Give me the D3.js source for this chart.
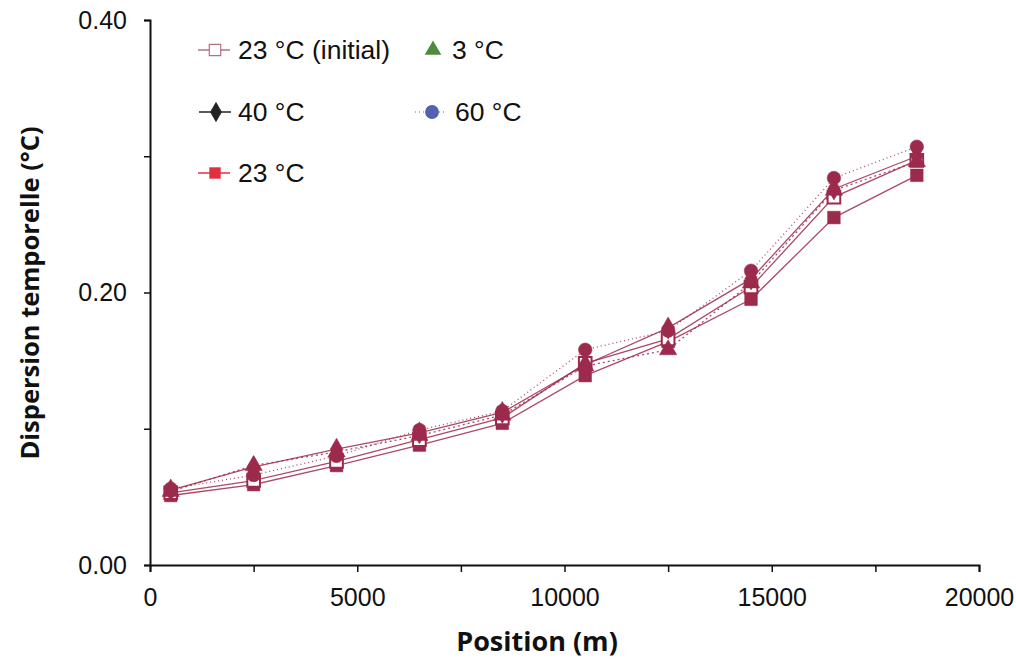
<!DOCTYPE html>
<html><head><meta charset="utf-8">
<script src="https://cdn.jsdelivr.net/npm/d3@7"></script>
<style>body{margin:0;background:#fff}svg{display:block}</style>
</head><body>
<svg id="c" width="1016" height="671"></svg>
<script>
const positions = [500, 2500, 4500, 6500, 8500, 10500, 12500, 14500, 16500, 18500];
const s23init = [0.053, 0.062, 0.076, 0.092, 0.108, 0.148, 0.166, 0.204, 0.270, 0.297];
const s3 = [0.054, 0.073, 0.083, 0.095, 0.110, 0.146, 0.158, 0.207, 0.275, 0.296];
const s40 = [0.055, 0.072, 0.085, 0.097, 0.112, 0.147, 0.174, 0.210, 0.276, 0.300];
const s60 = [0.056, 0.066, 0.080, 0.099, 0.113, 0.158, 0.172, 0.216, 0.284, 0.307];
const s23 = [0.051, 0.059, 0.073, 0.088, 0.104, 0.139, 0.164, 0.195, 0.255, 0.286];
const xTicks = [0, 5000, 10000, 15000, 20000];
const xMinorTicks = [0, 2500, 5000, 7500, 10000, 12500, 15000, 17500, 20000];
const yTicks = [0, 0.2, 0.4];
const yMinorTicks = [0, 0.1, 0.2, 0.3, 0.4];

const series = [
  {name: "23 °C", values: s23, sym: d3.symbolSquare, fill: "#9c2a4c", dash: null, legColor: "#e0303f", legFill: "#e0303f"},
  {name: "23 °C (initial)", values: s23init, sym: d3.symbolSquare, fill: "#fff", dash: null, legColor: "#b5707f", legFill: "#fff", open: true},
  {name: "3 °C", values: s3, sym: d3.symbolTriangle, fill: "#9c2a4c", dash: "2,3", legColor: "#4e8b3e", legFill: "#4e8b3e"},
  {name: "40 °C", values: s40, sym: d3.symbolDiamond, fill: "#9c2a4c", dash: null, legColor: "#222", legFill: "#222"},
  {name: "60 °C", values: s60, sym: d3.symbolCircle, fill: "#9c2a4c", dash: "1,3", legColor: "#5560b0", legFill: "#5560b0"}
];
const maroon = "#9c2a4c";

const svg = d3.select("#c");
const x = d3.scaleLinear().domain([0, 20000]).range([150, 979]);
const y = d3.scaleLinear().domain([0, 0.4]).range([565, 20]);

// lines
const line = d3.line().x((d, i) => x(positions[i])).y(d => y(d));
series.forEach(s => {
  svg.append("path").datum(s.values).attr("d", line)
    .attr("fill", "none").attr("stroke", maroon).attr("stroke-width", 1.3)
    .attr("stroke-opacity", 0.85)
    .attr("stroke-dasharray", s.dash);
});
// markers
series.forEach(s => {
  const size = s.sym === d3.symbolSquare ? 160 : s.sym === d3.symbolCircle ? 145 : s.sym === d3.symbolTriangle ? 130 : 140;
  svg.append("g").selectAll("path").data(s.values).join("path")
    .attr("transform", (d, i) => `translate(${x(positions[i])},${y(d)})`)
    .attr("d", d3.symbol().type(s.sym).size(size))
    .attr("fill", s.fill)
    .attr("stroke", maroon).attr("stroke-width", s.open ? 2 : 0.5);
});

// axes
const xAxis = svg.append("g").attr("transform", "translate(0,565)")
  .call(d3.axisBottom(x).tickValues(xMinorTicks).tickSize(7).tickFormat(""));
const xLab = svg.append("g").attr("transform", "translate(0,565)")
  .call(d3.axisBottom(x).tickValues(xTicks).tickSize(0).tickPadding(23).tickFormat(d3.format("d")));
xLab.select(".domain").remove();
const yAxis = svg.append("g").attr("transform", "translate(150,0)")
  .call(d3.axisLeft(y).tickValues(yMinorTicks).tickSize(6).tickFormat(""));
const yLab = svg.append("g").attr("transform", "translate(150,0)")
  .call(d3.axisLeft(y).tickValues(yTicks).tickSize(0).tickPadding(23).tickFormat(d3.format(".2f")));
yLab.select(".domain").remove();
[xAxis, yAxis].forEach(g => {
  g.select(".domain").attr("stroke", "#111").attr("stroke-width", 2);
  g.selectAll(".tick line").attr("stroke", "#111").attr("stroke-width", 1.5);
});
[xLab, yLab].forEach(g => g.selectAll("text")
  .attr("font-family", "Liberation Sans, Arial, sans-serif").attr("font-size", 25).attr("fill", "#111"));

// titles
svg.append("text").attr("x", 537).attr("y", 651).attr("text-anchor", "middle")
  .attr("font-family", "Open Sans, sans-serif").attr("font-weight", "bold").attr("font-size", 27)
  .attr("fill", "#111").text("Position (m)");
svg.append("text").attr("transform", "translate(39,293) rotate(-90)").attr("text-anchor", "middle")
  .attr("font-family", "Open Sans, sans-serif").attr("font-weight", "bold").attr("font-size", 25.5)
  .attr("fill", "#111").text("Dispersion temporelle (°C)");

// legend
const legendItems = [
  {s: series[1], mx: 215, ty: 50, tx: 238},
  {s: series[2], mx: 433, ty: 50, tx: 452},
  {s: series[3], mx: 216, ty: 112, tx: 238},
  {s: series[4], mx: 432, ty: 112, tx: 455},
  {s: series[0], mx: 215, ty: 173, tx: 238}
];
legendItems.forEach(it => {
  const s = it.s;
  if (s.sym !== d3.symbolTriangle) {
    svg.append("line").attr("x1", it.mx - 17).attr("x2", it.mx + 15).attr("y1", it.ty).attr("y2", it.ty)
      .attr("stroke", s.legColor).attr("stroke-width", s.sym === d3.symbolCircle ? 1 : 1.5)
      .attr("stroke-dasharray", s.sym === d3.symbolCircle ? "1,3" : null);
  }
  const size = s.sym === d3.symbolSquare ? 130 : s.sym === d3.symbolCircle ? 150 : s.sym === d3.symbolTriangle ? 120 : 120;
  svg.append("path").attr("transform", `translate(${it.mx},${it.ty})`)
    .attr("d", d3.symbol().type(s.sym).size(size))
    .attr("fill", s.legFill).attr("stroke", s.legColor).attr("stroke-width", s.open ? 1.2 : 0);
  svg.append("text").attr("x", it.tx).attr("y", it.ty).attr("dy", "0.35em")
    .attr("font-family", "Liberation Sans, Arial, sans-serif").attr("font-size", 26.5).attr("fill", "#111")
    .text(s.name);
});
</script>
</body></html>
